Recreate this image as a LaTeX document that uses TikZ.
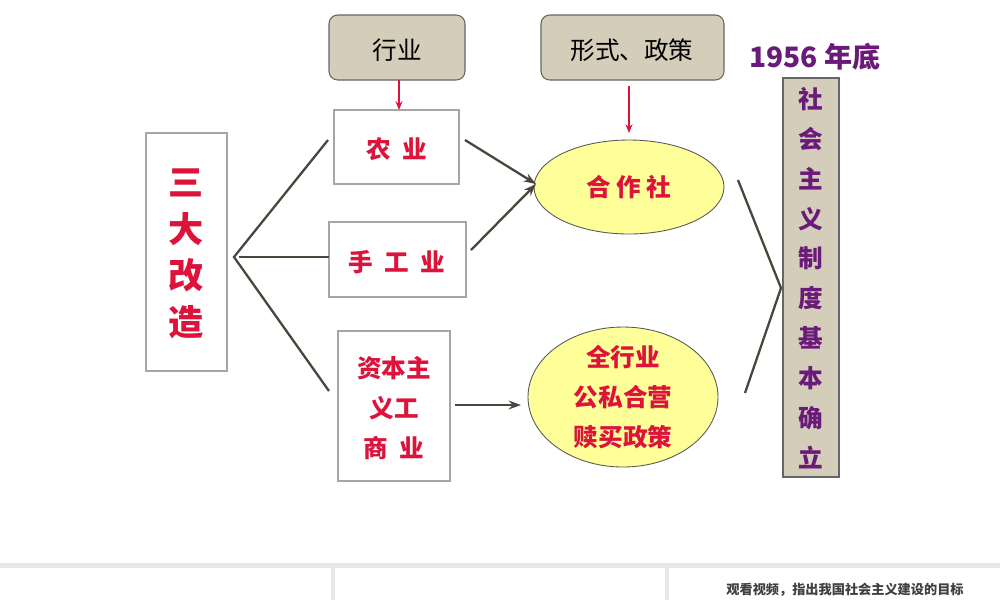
\documentclass[tikz,border=0pt]{standalone}
\usepackage{fontspec}
\newfontfamily\cjk{Noto Sans CJK SC}
\usetikzlibrary{arrows.meta}
\definecolor{rd}{HTML}{DC143C}
\definecolor{tan}{HTML}{D3CDB9}
\definecolor{pu}{HTML}{6A1B7A}
\definecolor{el}{HTML}{FFFF99}
\definecolor{ln}{HTML}{4A463C}
\begin{document}
\begin{tikzpicture}[x=0.02cm,y=-0.02cm,
  box/.style={draw=gray!70,fill=white,line width=0.6pt},
  topbox/.style={draw=gray!80!black,fill=tan,rounded corners=5pt,line width=0.6pt},
  ell/.style={draw=gray!70!black,fill=el,line width=0.5pt},
  rt/.style={text=rd,font=\cjk\bfseries\fontsize{14}{22.7}\selectfont},
  conn/.style={draw=ln,line width=1.3pt},
  arr/.style={conn,-{Stealth[length=7pt,width=5pt]}},
  redarr/.style={draw=rd,line width=0.8pt,-{Stealth[length=5pt,width=4pt]}}]
\useasboundingbox (0,0) rectangle (1000,600);
\fill[white] (0,0) rectangle (1000,600);
% top boxes
\draw[topbox] (329,15) rectangle (465,80);
\node (hy) at (397,50) {\cjk\fontsize{14}{18}\selectfont 行业};
\draw[topbox] (541,15) rectangle (724,80);
\node (xs) at (632,50) {\cjk\fontsize{14}{18}\selectfont 形式、政策};
\node[text=pu,font=\cjk\bfseries\fontsize{16}{20}\selectfont] (yr) at (815,57) {1956 年底};
% right tall box
\draw[fill=tan,draw=gray!80!black,line width=0.6pt] (783,78) rectangle (839,477);
\node[text=pu,font=\cjk\bfseries\fontsize{14}{22.7}\selectfont,align=center] (res) at (811,278)
  {社\\会\\主\\义\\制\\度\\基\\本\\确\\立};
% left box
\draw[box] (146,133) rectangle (227,371);
\node[rt,font=\cjk\bfseries\fontsize{20}{26.6}\selectfont,align=center] (sd) at (186,254) {三\\大\\改\\造};
% middle boxes
\draw[box] (334,110) rectangle (459,184);
\node[rt] (ny) at (397,149) {农\ \ 业};
\draw[box] (329,222) rectangle (466,297);
\node[rt] (sg) at (397,262) {手\ \ 工\ \ 业};
\draw[box] (338,331) rectangle (450,481);
\node[rt,align=center] (zb) at (394,408) {资本主\\义工\\商\ \ 业};
% ellipses
\draw[ell] (629,187) ellipse [x radius=95,y radius=47];
\node[rt] (hz) at (629,187) {合\ 作\ 社};
\draw[ell] (623,397) ellipse [x radius=95,y radius=70];
\node[rt,align=center] (qh) at (623,397) {全行业\\公私合营\\赎买政策};
% red arrows
\coordinate (r1a) at (399,80); \coordinate (r1b) at (399,110);
\coordinate (r2a) at (629,86); \coordinate (r2b) at (629,133);
\draw[redarr] (r1a) -- (r1b);
\draw[redarr] (r2a) -- (r2b);
% fan lines
\coordinate (f) at (234,257);
\coordinate (f0) at (239,257);
\coordinate (f1) at (328,140); \coordinate (f2) at (329,257); \coordinate (f3) at (329,391);
\draw[conn] (f1) -- (f) -- (f3);
\draw[conn] (f0) -- (f2);
% arrows
\coordinate (a1) at (465,140); \coordinate (a2) at (471,250); \coordinate (t) at (536,184);
\draw[arr] (a1) -- (t);
\draw[arr] (a2) -- (t);
\coordinate (b1) at (455,405); \coordinate (b2) at (521,405);
\draw[arr,line width=1pt] (b1) -- (b2);
\coordinate (c1) at (738,180); \coordinate (c2) at (745,393); \coordinate (cv) at (781,288);
\draw[conn] (c1) -- (cv) -- (c2);
% bottom strip
\fill[gray!18] (0,563) rectangle (1000,568);
\fill[gray!18] (331,568) rectangle (335,600);
\fill[gray!18] (665,568) rectangle (669,600);
\node[text=black!75,font=\cjk\bfseries\fontsize{7.5}{9}\selectfont] (cap) at (845,590) {观看视频，指出我国社会主义建设的目标};
\end{tikzpicture}
\end{document}
